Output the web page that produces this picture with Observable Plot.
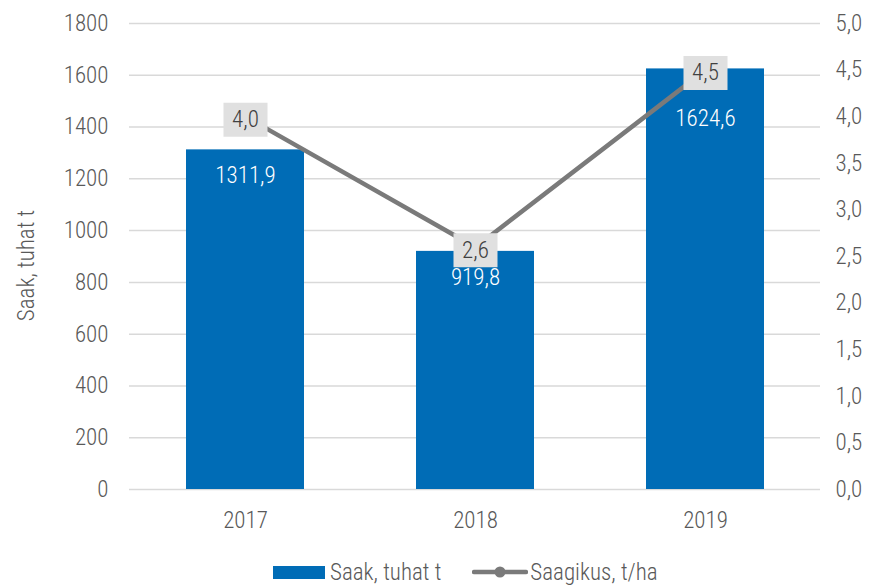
<!DOCTYPE html>
<html><head><meta charset="utf-8">
<script src="https://cdn.jsdelivr.net/npm/d3@7"></script>
<script src="https://cdn.jsdelivr.net/npm/@observablehq/plot@0.6"></script>
<style>
body{margin:0;background:#fff;}
#wrap{position:relative;width:875px;height:585px;font-family:"Roboto Condensed","Liberation Sans Narrow",Roboto,sans-serif;font-weight:300;}
#legend{position:absolute;left:273px;top:558px;height:28px;display:flex;align-items:center;font-size:23px;color:#595959;white-space:nowrap;}
#legend .item{display:flex;align-items:center;}
</style></head><body>
<div id="wrap"><div id="chart"></div>
<div id="legend">
  <span class="item"><svg width="52" height="13" style="margin-right:5px"><rect width="52" height="13" fill="#006cb6"/></svg>Saak, tuhat t</span>
  <span class="item" style="margin-left:31px"><svg width="56" height="14" style="margin-right:2px"><line x1="2" x2="54" y1="7" y2="7" stroke="#7a7a7a" stroke-width="4.5" stroke-linecap="round"/><circle cx="28" cy="7" r="5.5" fill="#7a7a7a"/></svg>Saagikus, t/ha</span>
</div>
</div>
<script>
const years = ["2017", "2018", "2019"];
const saak = [1311.9, 919.8, 1624.6];        // Saak, tuhat t (left axis)
const saagikus = [4.0, 2.6, 4.5];            // Saagikus, t/ha (right axis)
const leftTicks = [0, 200, 400, 600, 800, 1000, 1200, 1400, 1600, 1800];
const rightTicks = [0, 0.5, 1, 1.5, 2, 2.5, 3, 3.5, 4, 4.5, 5];

const leftMax = 1800, rightMax = 5;
const ratio = leftMax / rightMax;
const fmt = v => v.toFixed(1).replace(".", ",");
const data = years.map((y, i) => ({year: y, saak: saak[i], yld: saagikus[i]}));

const FONT = '"Roboto Condensed","Liberation Sans Narrow",Roboto,sans-serif';
const boxSymbol = {draw(ctx) { ctx.rect(-22, -17, 44, 34); }};

const chart = Plot.plot({
  width: 875, height: 545,
  marginTop: 23, marginBottom: 56, marginLeft: 129, marginRight: 55,
  style: {fontFamily: FONT, fontSize: "23px", fontWeight: 300, color: "#595959", background: "#fff"},
  x: {domain: years, paddingInner: 0.4876, paddingOuter: 0.244, label: null},
  y: {domain: [0, leftMax], label: null},
  marks: [
    Plot.gridY(leftTicks, {stroke: "#d9d9d9", strokeOpacity: 1, strokeWidth: 1.5}),
    Plot.axisY(leftTicks, {anchor: "left", tickSize: 0, tickPadding: 21, label: null, tickFormat: d => String(d), fill: "#595959"}),
    Plot.axisY(rightTicks.map(t => t * ratio), {anchor: "right", tickSize: 0, tickPadding: 15, label: null, tickFormat: d => fmt(d / ratio), fill: "#595959"}),
    Plot.axisX({tickSize: 0, tickPadding: 22, label: null, fill: "#595959"}),
    Plot.text(["Saak, tuhat t"], {frameAnchor: "left", textAnchor: "middle", dx: -103, dy: 9, rotate: -90, fill: "#595959"}),
    Plot.barY(data, {x: "year", y: "saak", fill: "#006cb6"}),
    Plot.text(data.filter(d => d.year !== "2019"), {x: "year", y: "saak", text: d => fmt(d.saak), fill: "white", dy: 26}),
    Plot.text(data.filter(d => d.year === "2019"), {x: "year", y: "saak", text: d => fmt(d.saak), fill: "white", dy: 50}),
    Plot.line(data, {x: "year", y: d => d.yld * ratio, stroke: "#7a7a7a", strokeWidth: 4.5}),
    Plot.dot(data, {x: "year", y: d => d.yld * ratio, symbol: boxSymbol, fill: "#e0e0e0", stroke: null, dy: 3}),
    Plot.text(data, {x: "year", y: d => d.yld * ratio, text: d => fmt(d.yld), fill: "#404040", dy: 3})
  ]
});
document.getElementById("chart").append(chart);
</script>
</body></html>
